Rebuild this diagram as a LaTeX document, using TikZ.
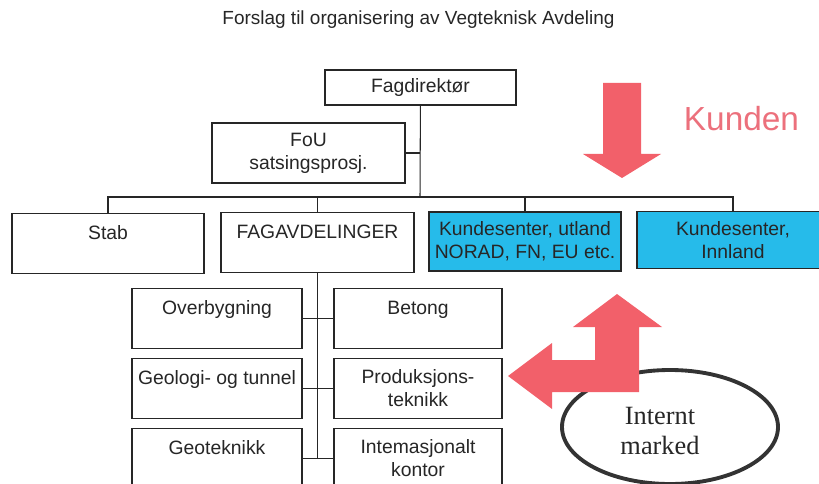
\documentclass[tikz,border=0pt]{standalone}
\usepackage{fontspec}
\setmainfont{Liberation Sans}
\newfontfamily\timesfont{Liberation Serif}
\usetikzlibrary{shapes}
\usetikzlibrary{positioning}
\definecolor{kundeblue}{RGB}{38,187,234}
\definecolor{arrowred}{RGB}{242,96,106}
\definecolor{kundenpink}{RGB}{236,112,124}
\tikzset{
    mynode/.style = {rectangle, draw=black!85, line width=0.6pt, align=center, fill=white, inner sep=0pt, font=\fontsize{11}{13}\selectfont, text=black!85},
    mynodet/.style = {mynode, text height=8pt, text depth=12pt},
    mynodeb/.style = {mynode, fill=kundeblue},
    ovaln/.style = {ellipse, line width=2.2pt, draw=black!80, minimum width=4.32cm, minimum height=2.28cm},
    ovaltext/.style = {align=center, text=black!85, font=\timesfont\fontsize{15}{17}\selectfont},
    edgen/.style = {-, line width=0.6pt, black!85},
    arrowr/.style = {fill=arrowred, draw=none}
}

\begin{document}
\begin{tikzpicture}
\path[use as bounding box] (0,0) rectangle (16.38,-9.68);
\clip (0,0) rectangle (16.38,-9.68);
%
\node[font=\fontsize{10.8}{13}\selectfont, text=black!85] (title) at (8.37,-0.40) {Forslag til organisering av Vegteknisk Avdeling};
%
\node[mynode, minimum width=3.82cm, minimum height=0.70cm] at (8.41,-1.75) (fagdir) {Fagdirektør};
\node[mynode, minimum width=3.86cm, minimum height=1.20cm] at (6.17,-3.06) (fou) {FoU\\satsingsprosj.};
\coordinate (bus) at (8.40,-3.94);
%
\node[mynodet, minimum width=3.84cm, minimum height=1.19cm] at (2.16,-4.87) (stab) {Stab};
\node[mynodet, minimum width=3.86cm, minimum height=1.19cm] at (6.35,-4.85) (fagavd) {FAGAVDELINGER};
\node[mynodeb, minimum width=3.84cm, minimum height=1.18cm] at (10.50,-4.83) (utland) {Kundesenter, utland\\NORAD, FN, EU etc.};
\node[mynodeb, minimum width=3.84cm, minimum height=1.14cm] at (14.66,-4.80) (innland) {Kundesenter,\\Innland};
%
\node[mynodet, minimum width=3.40cm, minimum height=1.19cm] at (4.34,-6.37) (overb) {Overbygning};
\node[mynodet, minimum width=3.40cm, minimum height=1.19cm] at (4.34,-7.77) (geol) {Geologi- og tunnel};
\node[mynodet, minimum width=3.40cm, minimum height=1.19cm] at (4.34,-9.17) (geotek) {Geoteknikk};
\node[mynodet, minimum width=3.36cm, minimum height=1.19cm] at (8.36,-6.37) (betong) {Betong};
\node[mynode, minimum width=3.36cm, minimum height=1.19cm] at (8.36,-7.77) (prod) {Produksjons-\\teknikk};
\node[mynode, minimum width=3.36cm, minimum height=1.19cm] at (8.36,-9.17) (intern) {Intemasjonalt\\kontor};
%
\draw[edgen] (fagdir) -- (bus);
\draw[edgen] (fou) -- (fou -| bus);
\draw[edgen] (stab) |- (bus) -| (innland);
\draw[edgen] (fagavd) -- (fagavd |- bus);
\draw[edgen] (utland) -- (utland |- bus);
\draw[edgen] (fagavd) -- (fagavd |- geotek);
\draw[edgen] (overb) -- (betong);
\draw[edgen] (geol) -- (prod);
\draw[edgen] (geotek) -- (intern);
%
\node[font=\fontsize{19}{19}\selectfont, text=kundenpink] (kunden) at (14.83,-2.38) {Kunden};
\node[ovaln, label={[ovaltext, xshift=-0.2cm, yshift=-0.08cm]center:Internt\\marked}] at (13.40,-8.54) (marked) {};
%
\fill[arrowr] (12.06,-1.66) -- (12.82,-1.66) -- (12.82,-3.08) -- (13.22,-3.08) -- (12.44,-3.56) -- (11.66,-3.08) -- (12.06,-3.08) -- cycle;
\fill[arrowr] (12.34,-5.88) -- (13.24,-6.54) -- (12.78,-6.54) -- (12.78,-7.84) -- (11.04,-7.84) -- (11.04,-8.18) -- (10.16,-7.52) -- (11.04,-6.86) -- (11.04,-7.20) -- (11.90,-7.20) -- (11.90,-6.54) -- (11.46,-6.54) -- cycle;

\end{tikzpicture}
\end{document}
